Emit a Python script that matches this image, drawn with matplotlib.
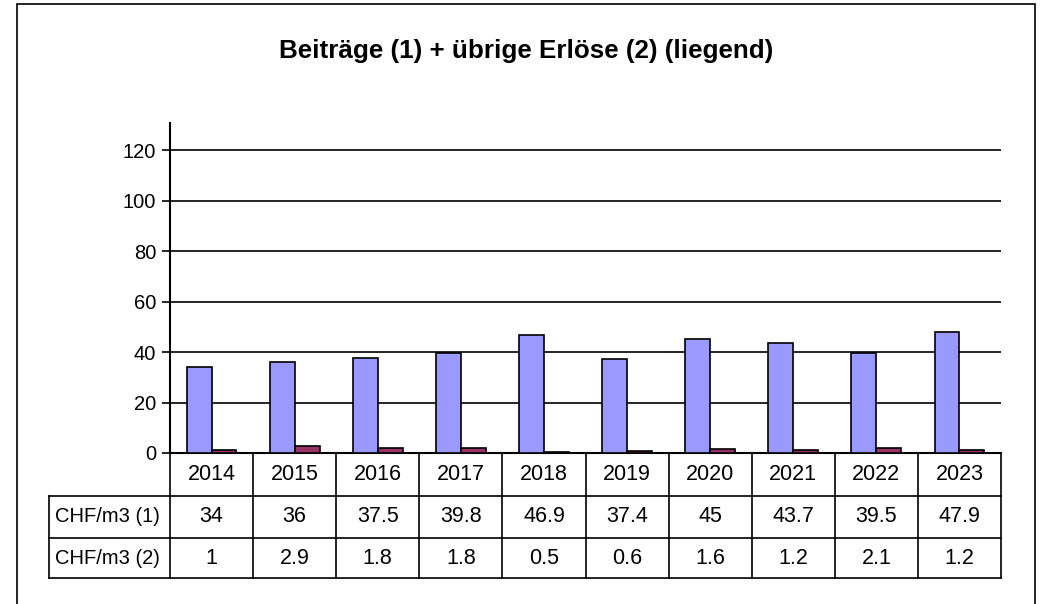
import matplotlib
matplotlib.use("Agg")
import matplotlib.pyplot as plt
from matplotlib.patches import Rectangle
from matplotlib.lines import Line2D
import numpy as np

years = ["2014", "2015", "2016", "2017", "2018", "2019", "2020", "2021", "2022", "2023"]
beitraege = [34, 36, 37.5, 39.8, 46.9, 37.4, 45, 43.7, 39.5, 47.9]
uebrige = [1, 2.9, 1.8, 1.8, 0.5, 0.6, 1.6, 1.2, 2.1, 1.2]
row_labels = ["CHF/m3 (1)", "CHF/m3 (2)"]
title = "Beiträge (1) + übrige Erlöse (2) (liegend)"
yticks = [0, 20, 40, 60, 80, 100, 120]

W, H = 1043, 604
plt.rcParams['font.family'] = ['Liberation Sans', 'DejaVu Sans']
fig = plt.figure(figsize=(W / 100, H / 100), dpi=100)

def fx(px):
    return px / W

def fy(py):
    return 1 - py / H

# outer border
fig.patches.append(Rectangle((fx(17), fy(640)), fx(1035) - fx(17), fy(4) - fy(640),
                             transform=fig.transFigure, fill=False, edgecolor='black', lw=1.2))

ax_left, ax_right, ax_top, ax_bot = 170, 1001, 123, 453
ax = fig.add_axes([fx(ax_left), fy(ax_bot), fx(ax_right) - fx(ax_left), fy(ax_top) - fy(ax_bot)])
ax.set_facecolor('none')
x = np.arange(len(years))
bw = 0.3
ax.bar(x - bw / 2, beitraege, width=bw, color='#9999FF', edgecolor='black', lw=1.2, zorder=3)
ax.bar(x + bw / 2, uebrige, width=bw, color='#993366', edgecolor='black', lw=1.2, zorder=3)
ax.set_xlim(-0.5, len(years) - 0.5)
ax.set_ylim(0, 130.7)
ax.set_yticks(yticks)
ax.set_yticklabels([str(t) for t in yticks], fontsize=14.5)
ax.yaxis.grid(True, color='black', lw=1.2, zorder=0)
ax.set_xticks([])
for s in ['top', 'right']:
    ax.spines[s].set_visible(False)
ax.spines['left'].set_linewidth(1.5)
ax.spines['bottom'].set_linewidth(1.5)
ax.tick_params(axis='y', length=6, width=1.2, direction='out', pad=4)

fig.text(fx(526), fy(51), title, ha='center', va='center', fontsize=18.7, fontweight='bold')

# data table below
row_y = [453, 496, 538, 578]
tab_left = 49
cw = (ax_right - ax_left) / len(years)
lw = 1.2
def hline(y, x0, x1):
    fig.add_artist(Line2D([fx(x0), fx(x1)], [fy(y), fy(y)], transform=fig.transFigure, color='black', lw=lw))
def vline(xp, y0, y1):
    fig.add_artist(Line2D([fx(xp), fx(xp)], [fy(y0), fy(y1)], transform=fig.transFigure, color='black', lw=lw))

hline(row_y[1], tab_left, ax_right)
hline(row_y[2], tab_left, ax_right)
hline(row_y[3], tab_left, ax_right)
vline(tab_left, row_y[1], row_y[3])
for i in range(len(years) + 1):
    vline(ax_left + i * cw, row_y[0], row_y[3])

def cell_text(xc, r, s):
    fig.text(fx(xc), fy((row_y[r] + row_y[r + 1]) / 2), s, ha='center', va='center', fontsize=15.5)

for i, yr in enumerate(years):
    xc = ax_left + (i + 0.5) * cw
    cell_text(xc, 0, yr)
    cell_text(xc, 1, f"{beitraege[i]:g}")
    cell_text(xc, 2, f"{uebrige[i]:g}")
for r, lab in enumerate(row_labels):
    fig.text(fx(tab_left + 6), fy((row_y[r + 1] + row_y[r + 2]) / 2), lab, ha='left', va='center', fontsize=14.5)

fig.savefig("out.png", dpi=100, facecolor='white')
